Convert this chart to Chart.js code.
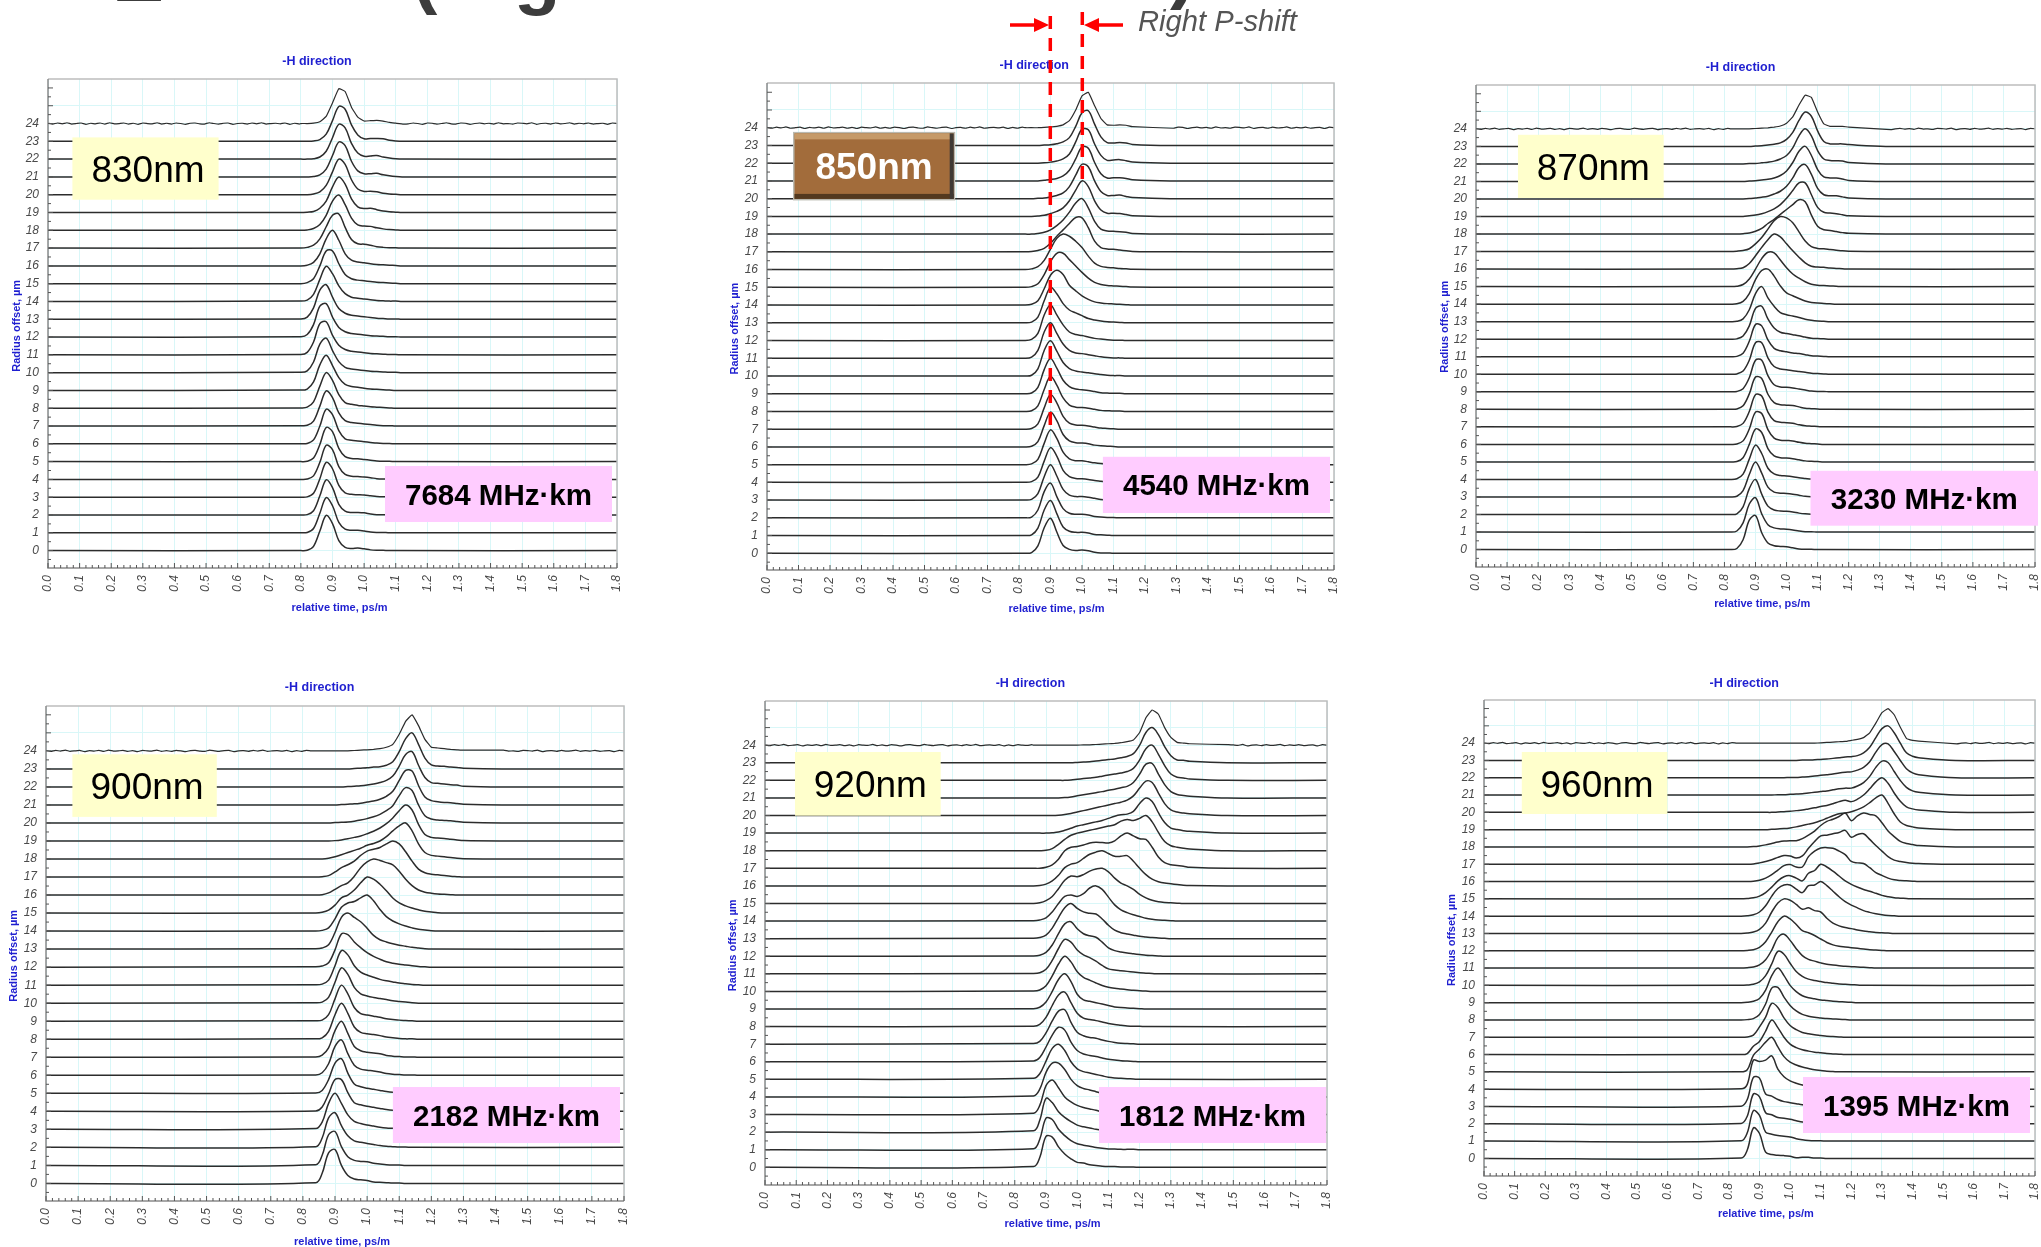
<!DOCTYPE html>
<html>
<head>
<meta charset="utf-8">
<title>-H direction pulses</title>
<script src="https://cdn.jsdelivr.net/npm/chart.js@4"></script>
<style>
  html, body { margin: 0; padding: 0; background: #fff; width: 2041px; height: 1247px; overflow: hidden; }
  canvas { position: absolute; }
  #overlay { position: absolute; left: 0; top: 0; font-family: "Liberation Sans", Arial, sans-serif; }
</style>
</head>
<body>
<svg id="overlay" width="2041" height="1247"></svg>
<script>
// pulse height, 100 = tallest peak. Rows are radius offset 0..24,
// missing values at the end of a row are baseline.
var time830 = [0.80,0.82,0.84,0.86,0.88,0.90,0.92,0.94,0.96,0.98,1.00,1.02,1.04,1.06,1.08,1.10,1.12];
var pulses830 = [
  [0,1,12,55,99,76,28,9,6,7,5,2,1,1],
  [0,1,12,55,99,76,29,10,7,7,5,2,1,1],
  [0,1,12,54,99,77,30,11,7,7,6,3,1,1],
  [0,1,11,52,98,80,33,12,8,7,6,4,2,1,1],
  [0,1,10,48,96,84,36,14,9,8,7,5,2,1,1],
  [0,1,10,48,96,84,37,14,9,8,6,4,2,1,1],
  [0,1,11,50,97,82,37,14,10,8,6,4,2,1,1],
  [1,2,14,56,99,80,37,15,10,8,6,4,2,1,1],
  [1,3,18,62,100,78,38,16,11,8,6,4,3,2,1],
  [1,4,24,72,99,70,36,17,11,9,6,4,3,2,1],
  [1,5,30,80,97,62,31,15,10,8,6,4,3,2,1,1],
  [1,7,36,88,93,55,27,15,10,8,6,4,3,2,1,1],
  [1,7,35,87,94,56,27,15,10,8,6,4,3,2,1,1],
  [1,6,32,82,97,62,30,17,11,9,7,5,3,2,1,1],
  [1,4,20,62,99,78,44,22,12,9,7,5,3,2,1,1],
  [0,3,14,50,92,92,56,26,14,10,8,6,4,3,2,1],
  [0,2,10,34,76,100,72,34,16,11,9,6,4,3,2,1],
  [0,2,8,26,60,92,96,58,24,12,11,8,4,2,1,1],
  [0,1,5,16,42,82,99,72,34,15,12,11,7,4,2,1],
  [0,1,3,12,32,72,100,80,38,16,11,12,8,4,2,1],
  [0,0,2,8,26,64,100,85,42,16,9,10,8,4,2,1],
  [0,0,1,6,22,60,98,88,44,17,9,9,10,6,3,1],
  [0,0,1,6,22,60,98,88,44,17,8,9,10,6,3,1],
  [0,0,1,5,20,58,98,90,46,18,7,8,8,7,3,1],
  [0,0,1,5,20,58,98,90,46,18,7,8,9,7,3,1]
];

var time850 = [0.82,0.84,0.86,0.88,0.90,0.92,0.94,0.96,0.98,1.00,1.02,1.04,1.06,1.08,1.10,1.12,1.14,1.16];
var pulses850 = [
  [0,2,21,72,99,60,22,11,8,9,7,3,1,1],
  [0,2,21,72,99,62,24,12,9,9,7,3,2,1],
  [0,2,22,74,98,60,26,13,10,10,8,4,2,1,1],
  [0,2,18,66,100,68,30,14,10,10,8,5,2,1,1],
  [0,2,15,60,98,74,34,16,11,10,8,5,3,1,1],
  [0,2,15,60,98,74,35,16,11,11,8,5,3,2,1],
  [0,2,15,60,98,74,35,17,12,11,9,5,3,2,1],
  [0,2,15,60,98,74,36,17,12,11,9,6,3,2,1],
  [0,2,16,62,99,74,38,18,12,11,9,6,3,2,1,1],
  [0,2,18,68,99,72,38,20,13,11,9,6,3,2,1,1],
  [0,2,20,72,99,70,38,21,14,11,9,6,4,2,1,1],
  [0,3,22,74,100,70,40,22,15,13,10,7,4,2,1,1],
  [0,3,20,72,100,72,44,24,17,14,10,6,4,2,1,1],
  [0,2,16,62,100,82,54,36,28,20,12,8,5,3,2,1],
  [0,2,12,46,84,98,86,56,40,26,16,9,6,4,3,2,1],
  [0,2,10,36,72,96,96,78,60,42,26,14,8,5,4,3,2,1],
  [0,2,8,26,58,88,100,94,80,62,38,18,9,6,5,3,2,1],
  [0,1,4,10,24,44,62,80,97,96,68,30,12,8,7,5,3,1],
  [0,0,2,5,12,24,40,62,88,100,74,36,14,9,8,7,5,2],
  [0,0,1,3,8,14,24,44,74,100,84,44,18,9,9,8,5,2],
  [0,0,1,2,5,9,16,34,66,97,90,50,20,9,9,10,6,3],
  [0,0,0,2,4,7,14,30,62,96,92,52,20,8,9,9,7,3],
  [0,0,0,1,3,6,12,26,60,96,94,54,22,8,9,10,7,3],
  [0,0,0,1,2,5,10,22,54,92,98,60,24,8,7,8,7,3],
  [0,0,0,1,2,4,8,20,50,90,100,62,26,8,7,8,7,3]
];

var time870 = [0.82,0.84,0.86,0.88,0.90,0.92,0.94,0.96,0.98,1.00,1.02,1.04,1.06,1.08,1.10,1.12,1.14,1.16,1.18,1.20];
var pulses870 = [
  [0,3,28,84,97,48,19,11,9,8,5,2,1,1],
  [0,3,26,80,98,52,21,12,9,8,6,3,1,1],
  [0,2,22,74,100,58,24,13,10,9,7,4,2,1,1],
  [0,2,18,64,100,68,28,14,11,10,8,5,2,1,1],
  [0,2,15,58,98,74,32,16,11,10,8,5,3,1,1],
  [0,1,12,50,94,84,38,17,12,11,9,6,3,2,1],
  [0,1,10,44,92,88,42,18,12,11,10,6,3,2,1],
  [0,1,10,44,92,88,42,18,13,12,10,6,3,2,1],
  [0,1,10,44,92,88,43,19,13,12,11,7,3,2,1],
  [0,1,9,40,90,90,46,20,14,13,11,8,5,2,1,1],
  [0,1,9,40,90,90,47,22,15,13,10,8,6,3,2,1],
  [0,1,10,44,92,88,48,24,17,14,11,9,6,3,2,1],
  [0,1,9,38,88,94,58,32,20,16,13,10,6,3,2,1],
  [0,1,8,34,80,100,68,44,26,20,16,12,7,4,2,1],
  [0,1,8,30,70,96,100,80,52,32,24,16,9,5,3,2,1],
  [0,1,6,22,50,80,98,96,76,54,36,24,14,7,4,3,2,1],
  [0,1,4,16,38,62,84,100,92,72,52,34,18,8,6,5,3,2,1],
  [0,1,3,8,22,40,64,88,100,96,82,56,30,14,9,8,6,4,2,1],
  [0,0,1,3,8,16,30,42,56,70,84,98,92,54,22,12,10,7,4,2],
  [0,0,0,2,4,8,14,22,34,52,74,96,96,62,26,12,10,8,5,2],
  [0,0,0,1,3,5,8,14,22,36,60,90,98,70,30,12,9,9,6,3],
  [0,0,0,1,2,4,6,10,17,30,54,86,100,74,34,13,10,10,7,3],
  [0,0,0,1,1,3,5,8,14,24,46,80,100,80,38,14,10,9,8,4],
  [0,0,0,0,1,2,4,6,10,20,40,74,98,86,44,14,7,7,7,5],
  [0,0,0,0,1,2,3,5,8,16,34,68,96,90,48,14,7,7,7,5]
];

var time900 = [0.84,0.86,0.88,0.90,0.92,0.94,0.96,0.98,1.00,1.02,1.04,1.06,1.08,1.10,1.12,1.14,1.16,1.18,1.20,1.22,1.24,1.26,1.28,1.30];
var pulses900 = [
  [2,28,85,94,50,22,12,10,8,4,3,2,1,1],
  [2,28,85,94,52,24,14,11,10,6,4,2,1,1],
  [2,26,82,96,60,32,18,14,11,8,5,3,2,1,1],
  [2,20,72,100,72,40,22,16,12,9,6,4,3,2,1,1],
  [1,12,48,88,88,52,24,18,14,11,8,5,3,2,1,1],
  [1,8,38,84,96,56,26,18,14,11,8,5,3,2,1,1],
  [1,7,32,80,98,60,28,17,14,12,9,5,3,2,1,1],
  [1,6,26,74,100,66,30,18,14,12,10,5,3,2,1,1],
  [1,4,22,68,100,72,34,19,15,13,10,6,4,2,1,1],
  [1,3,18,62,100,76,38,21,17,14,11,7,5,3,2,1],
  [1,3,16,58,98,80,44,26,20,16,13,10,7,5,3,1],
  [1,3,14,54,96,84,54,36,28,22,16,12,9,6,4,2,1],
  [1,3,12,48,92,90,70,54,40,30,22,15,11,8,6,4,2,1],
  [1,3,12,46,88,100,88,76,58,38,26,20,15,11,8,5,3,1],
  [0,2,9,34,66,78,82,92,100,84,60,40,28,20,14,9,5,3,1],
  [0,2,8,22,42,50,64,84,100,94,80,62,42,28,20,14,9,5,3,1],
  [0,1,6,16,26,34,52,76,92,100,96,90,84,66,44,26,14,8,5,3,2,1],
  [0,1,4,14,26,34,44,60,72,77,82,92,100,92,70,44,22,12,8,6,4,2,1],
  [0,0,2,6,12,18,24,30,38,43,50,62,78,92,100,78,42,18,10,8,6,4,2,1],
  [0,0,0,1,3,6,10,14,20,27,36,48,64,84,100,86,46,18,10,8,7,5,3,1],
  [0,0,0,1,2,3,5,8,12,17,24,34,48,76,98,90,50,20,11,8,7,6,4,2],
  [0,0,0,0,1,2,3,5,8,11,16,24,38,68,96,94,54,22,12,9,7,6,4,2],
  [0,0,0,0,0,1,2,3,5,8,12,18,30,58,90,98,60,26,12,10,8,6,5,2],
  [0,0,0,0,0,0,1,2,3,5,6,10,20,48,84,100,68,30,11,8,7,5,4,2],
  [0,0,0,0,0,0,1,2,3,4,6,10,18,46,82,100,70,32,10,8,6,4,3,2]
];

var time920 = [0.86,0.88,0.90,0.92,0.94,0.96,0.98,1.00,1.02,1.04,1.06,1.08,1.10,1.12,1.14,1.16,1.18,1.20,1.22,1.24,1.26,1.28,1.30,1.32,1.34,1.36];
var pulses920 = [
  [2,28,88,86,58,38,24,14,12,7,5,3,2,2,1,1,1],
  [3,30,90,86,58,40,26,17,13,10,6,4,2,2,1,1,1],
  [4,34,96,84,58,42,30,20,15,12,8,5,3,2,2,1,1],
  [4,26,82,98,76,50,36,26,20,16,12,7,5,3,2,1,1],
  [3,22,70,96,96,78,50,32,24,20,15,10,6,4,3,2,1],
  [3,16,52,88,100,82,50,30,22,18,14,10,6,4,3,2,1],
  [2,12,42,76,98,90,56,32,22,18,15,11,7,5,3,2,1],
  [2,8,32,66,94,98,62,34,24,19,17,12,8,5,3,2,1],
  [1,6,26,60,90,98,68,38,24,20,17,13,9,6,4,2,1,1],
  [1,5,20,50,84,100,78,42,26,22,18,14,10,6,4,3,2,1],
  [1,4,16,44,78,100,84,56,40,32,24,17,12,9,7,5,3,2,1],
  [1,3,13,38,72,98,90,68,54,46,36,24,14,11,9,7,5,3,2,1],
  [1,3,11,32,64,92,98,78,64,58,54,40,24,16,12,9,7,5,3,2,1],
  [1,3,10,30,60,88,100,86,76,72,70,56,38,24,17,13,10,7,5,3,2,1],
  [1,3,9,26,50,70,74,70,78,94,100,90,68,46,32,24,18,13,8,5,3,2,1],
  [0,2,8,20,42,66,78,76,82,92,98,100,90,72,58,50,40,26,16,9,5,3,2,1],
  [0,1,5,14,30,52,62,66,78,90,96,100,92,84,84,86,70,50,32,19,12,8,6,4,2,1],
  [0,0,3,10,26,50,60,62,66,72,74,73,72,78,92,100,92,84,82,60,32,16,10,8,6,3],
  [0,0,1,6,18,32,44,50,54,58,62,66,70,74,84,89,86,92,100,82,52,26,14,10,7,5],
  [0,0,0,1,3,8,14,20,24,28,32,36,42,48,52,54,62,84,100,90,58,30,14,10,7,5],
  [0,0,0,0,1,3,6,10,14,18,22,26,30,34,38,44,56,78,98,94,64,34,16,10,7,5],
  [0,0,0,0,0,1,3,6,9,12,15,18,22,25,29,33,44,68,96,98,68,38,18,10,7,5],
  [0,0,0,0,0,0,1,3,5,7,9,12,15,18,21,25,34,58,90,100,74,42,18,9,7,4],
  [0,0,0,0,0,0,0,1,2,3,5,7,9,11,14,18,26,50,86,100,80,46,20,8,7,4],
  [0,0,0,0,0,0,0,0,1,1,2,3,4,5,7,10,15,36,78,100,88,50,22,8,6,4]
];

var time960 = [0.84,0.86,0.88,0.90,0.92,0.94,0.96,0.98,1.00,1.02,1.04,1.06,1.08,1.10,1.12,1.14,1.16,1.18,1.20,1.22,1.24,1.26,1.28,1.30,1.32,1.34,1.36,1.38,1.40,1.42];
var pulses960 = [
  [1,24,88,72,18,11,9,8,6,2,3,3,1,1],
  [1,24,88,74,26,20,16,14,12,7,4,2,1,1],
  [1,22,86,78,32,26,18,16,13,9,5,3,2,1,1],
  [1,20,84,82,36,30,20,14,11,8,5,3,2,1,1],
  [1,14,84,80,84,96,58,36,24,17,12,9,5,3,2,1],
  [0,6,48,66,86,100,72,44,28,20,14,10,6,4,2,1],
  [0,3,24,38,68,100,78,50,30,20,14,10,7,5,3,2,1],
  [0,1,6,30,58,98,86,56,34,22,14,10,7,5,3,2,1],
  [0,1,4,16,46,92,94,66,42,26,16,11,8,6,4,3,2,1],
  [0,1,4,12,36,78,100,78,50,32,20,14,11,8,6,4,3,2,1],
  [0,1,3,10,28,62,98,90,64,40,26,18,14,11,8,6,4,3,2,1],
  [0,1,3,9,24,52,88,98,80,56,36,25,20,15,11,9,7,5,4,3,2,1],
  [0,1,3,10,26,54,84,100,92,76,58,52,44,34,24,17,13,11,9,7,5,3,2,1],
  [0,1,4,12,30,62,88,100,96,84,70,74,66,62,44,30,22,17,14,10,7,5,3,2,1],
  [0,1,4,12,30,58,80,90,90,78,68,88,90,100,88,72,56,42,32,24,16,11,7,4,2,1],
  [0,1,3,8,18,34,52,64,67,60,52,74,82,100,92,80,66,52,42,34,27,22,16,10,6,3,2,1],
  [0,0,1,4,10,20,33,46,49,42,42,72,88,97,98,96,88,78,58,54,52,40,26,18,10,5,3,2,1],
  [0,0,1,4,8,13,20,25,24,18,24,46,66,82,84,88,92,98,78,86,88,72,54,38,22,12,8,5,3,2],
  [0,0,1,3,6,10,14,17,18,18,24,34,46,62,74,80,88,98,76,90,98,94,90,70,46,30,16,10,7,4],
  [0,0,0,0,0,1,2,3,5,8,12,16,20,26,33,40,46,48,52,58,66,78,92,100,76,46,22,12,8,5],
  [0,0,0,0,0,0,1,2,3,5,7,10,13,17,20,25,31,35,31,38,50,68,88,100,84,56,32,16,10,7],
  [0,0,0,0,0,0,1,1,2,3,4,6,8,10,12,15,18,20,20,26,36,54,80,98,94,68,42,22,12,8],
  [0,0,0,0,0,0,0,0,1,1,2,3,5,7,9,11,14,16,17,22,30,46,74,96,98,76,50,26,14,9],
  [0,0,0,0,0,0,0,0,0,0,1,1,2,3,4,6,8,10,11,14,22,38,66,92,100,80,50,22,12,8],
  [0,0,0,0,0,0,0,0,0,0,0,0,0,1,2,3,4,5,8,11,16,30,58,88,100,82,46,14,8,6]
];

// the 24 um trace is noisy, one reading every 0.015 ps/m
var noise24 = [1,-2,2,-1,3,-2,0,2,-3,1,-1,2,-2,3,-1,0,2,-2,1,-3,2,0,-1,3,-2,1,-2,2,0,-3,1,2,-1,-2,3,0,-2,1,2,-3,0,1,-2,2,-1,3,-2,0,1,-1,2,-3,1,-2,2,0,-1,2,-2,1,
  -1,2,0,-2,3,-1,1,-3,2,-1,0,2,-2,1,3,-2,-1,2,0,-3,2,1,-2,0,3,-1,-2,2,1,-3,0,2,-1,1,-2,3,-1,0,-2,2,1,-1,3,-3,0,1,-2,2,-1,0,3,-2,1,-1,2,-2,0,1,-3,2];

var noiseStep = 0.015;
var xTop = 1.8;
var tailLength = 0.12; // rows that fill the whole time list still fade out after it

// where each picture sits on the slide
var panels = [
  { time: time830, rows: pulses830, left: 48.3, right: 617, top: 79, bottom: 567.7, y0: 550.3, y24: 123.5,
    title: [317, 61], xTitle: [339.5, 606.7], yTitle: [15.6, 325.8],
    nm: '830nm', nmBox: [72.4, 137.4, 146.2, 62.3], bw: '7684 MHz·km', bwBox: [385, 466, 227, 56] },
  { time: time850, rows: pulses850, left: 766.9, right: 1334, top: 83.2, bottom: 570, y0: 553.3, y24: 127.9,
    title: [1034.3, 64.7], xTitle: [1056.5, 608], yTitle: [733.8, 328.6],
    nm: '850nm', nmBox: [794.5, 133.4, 159.2, 65.5], bevel: true, bw: '4540 MHz·km', bwBox: [1102.9, 456.8, 227.1, 56.2] },
  { time: time870, rows: pulses870, left: 1475.6, right: 2034.6, top: 84.9, bottom: 566.4, y0: 549, y24: 128.7,
    title: [1740.6, 66.7], xTitle: [1762.2, 602.8], yTitle: [1443.7, 326.7],
    nm: '870nm', nmBox: [1518, 134.8, 145.7, 63.2], bw: '3230 MHz·km', bwBox: [1810.5, 470.8, 227.5, 54.9] },
  { time: time900, rows: pulses900, left: 46.4, right: 624, top: 705.7, bottom: 1201, y0: 1183.4, y24: 750.6,
    title: [319.6, 687], xTitle: [342, 1240.7], yTitle: [13, 955.8],
    nm: '900nm', nmBox: [72.4, 754.3, 144.4, 62.6], bw: '2182 MHz·km', bwBox: [392.9, 1087, 227.1, 56] },
  { time: time920, rows: pulses920, left: 764.6, right: 1327, top: 700.8, bottom: 1185, y0: 1167.3, y24: 745,
    title: [1030.4, 682.8], xTitle: [1052.6, 1222.7], yTitle: [731.7, 945.3],
    nm: '920nm', nmBox: [795, 752, 145.7, 63.7], bw: '1812 MHz·km', bwBox: [1099, 1087, 227, 56] },
  { time: time960, rows: pulses960, left: 1483.8, right: 2034.9, top: 700.4, bottom: 1175.9, y0: 1158.3, y24: 743.5,
    title: [1744.2, 682.5], xTitle: [1765.9, 1213], yTitle: [1451, 940],
    nm: '960nm', nmBox: [1521.8, 752, 145.6, 62], bw: '1395 MHz·km', bwBox: [1803, 1077, 227, 56] }
];

var marginLeft = 50, marginBottom = 50, marginTop = 12, marginRight = 12;
var tickFont = { family: '"Liberation Sans", Arial, sans-serif', size: 12, style: 'italic' };

function traceData(time, row, k) {
  var pts = [];
  if (k == 24) {
    noise24.forEach(function (n, i) {
      if (i * noiseStep < time[0]) pts.push({ x: i * noiseStep, y: k + n / 70 });
    });
  } else {
    pts.push({ x: 0, y: k });
  }
  row.forEach(function (v, i) {
    pts.push({ x: time[i], y: k + v / 50 });
  });
  var end = row.length < time.length ? time[row.length] : time[time.length - 1] + tailLength;
  if (k == 24) {
    noise24.forEach(function (n, i) {
      if (i * noiseStep > end) pts.push({ x: i * noiseStep, y: k + n / 70 });
    });
  } else {
    pts.push({ x: end, y: k });
  }
  pts.push({ x: xTop, y: k });
  return pts;
}

// frame and the small inward ticks of the original plots
var frameTicks = {
  id: 'frameTicks',
  afterDraw: function (chart) {
    var c = chart.ctx, a = chart.chartArea, sx = chart.scales.x, sy = chart.scales.y;
    c.save();
    c.strokeStyle = '#bdbdbd';
    c.lineWidth = 1.5;
    c.beginPath();
    c.moveTo(a.left, a.top); c.lineTo(a.right, a.top); c.lineTo(a.right, a.bottom);
    c.stroke();
    c.strokeStyle = '#8a8a8a';
    c.beginPath();
    c.moveTo(a.left, a.top); c.lineTo(a.left, a.bottom); c.lineTo(a.right, a.bottom);
    c.stroke();
    c.strokeStyle = '#555';
    c.lineWidth = 1;
    c.beginPath();
    for (var i = 0; i <= 90; i++) {
      var px = sx.getPixelForValue(i * 0.02);
      c.moveTo(px, a.bottom);
      c.lineTo(px, a.bottom - (i % 5 == 0 ? 5 : 3));
    }
    for (var j = -1; j <= 52; j++) {
      var py = sy.getPixelForValue(j / 2);
      if (py < a.top || py > a.bottom) continue;
      c.moveTo(a.left, py);
      c.lineTo(a.left + (j % 2 == 0 ? 5 : 3), py);
    }
    c.stroke();
    c.restore();
  }
};

panels.forEach(function (p) {
  var canvas = document.createElement('canvas');
  canvas.width = Math.round(p.right - p.left + marginLeft + marginRight);
  canvas.height = Math.round(p.bottom - p.top + marginTop + marginBottom);
  canvas.style.left = (p.left - marginLeft) + 'px';
  canvas.style.top = (p.top - marginTop) + 'px';
  document.body.insertBefore(canvas, document.getElementById('overlay'));

  var spacing = (p.y0 - p.y24) / 24;
  var yMin = -(p.bottom - p.y0) / spacing;
  var yMax = (p.y0 - p.top) / spacing;

  new Chart(canvas.getContext('2d'), {
    type: 'line',
    data: {
      datasets: p.rows.map(function (row, k) {
        return {
          label: k + ' um',
          data: traceData(p.time, row, k),
          borderColor: '#2c2c2c',
          borderWidth: k == 24 ? 1.2 : 1.5,
          pointRadius: 0,
          tension: k == 24 ? 0.1 : 0.35,
          fill: false
        };
      })
    },
    options: {
      responsive: false,
      animation: false,
      parsing: false,
      layout: { padding: { left: 0, right: marginRight, top: marginTop, bottom: 0 } },
      plugins: { legend: { display: false }, tooltip: { enabled: false } },
      scales: {
        x: {
          type: 'linear',
          min: 0,
          max: xTop,
          afterFit: function (s) {
            s.height = marginBottom;
            s.paddingLeft = 0;
            s.paddingRight = 0;
          },
          border: { display: false },
          grid: { color: '#d9f7f8', lineWidth: 1, drawTicks: false, borderDash: [2, 1] },
          ticks: {
            stepSize: 0.1,
            autoSkip: false,
            maxRotation: 90,
            minRotation: 90,
            padding: 7,
            color: '#4a4a4a',
            font: tickFont,
            callback: function (v) { return v.toFixed(1); }
          }
        },
        y: {
          type: 'linear',
          min: yMin,
          max: yMax,
          afterFit: function (s) {
            s.width = marginLeft;
            s.paddingTop = 0;
            s.paddingBottom = 0;
          },
          border: { display: false },
          grid: {
            drawTicks: false,
            color: function (ctx) {
              return Number.isInteger(ctx.tick.value) ? '#d9f7f8' : 'transparent';
            }
          },
          ticks: {
            stepSize: 1,
            autoSkip: false,
            padding: 9,
            color: '#4a4a4a',
            font: tickFont,
            callback: function (v) {
              return Number.isInteger(v) && v >= 0 && v <= 24 ? String(v) : '';
            }
          }
        }
      }
    },
    plugins: [frameTicks]
  });
});

// text boxes and the red markers on top of the plots
function svgText(x, y, str, attrs) {
  return '<text x="' + x + '" y="' + y + '" ' + attrs + '>' + str + '</text>';
}
var blue = 'fill="#1f1fd0" font-weight="bold" text-anchor="middle" dominant-baseline="central"';
var svg = '';

// bottom of the slide heading, cut off by the crop
var heading = 'fill="#3c3c3c" font-weight="bold" font-size="76"';
svg += svgText(118, -8, '_', heading);
svg += svgText(412, -1, '(', heading);
svg += svgText(514, 0, 'g', heading);
svg += svgText(1170, -6, ')', heading);

panels.forEach(function (p) {
  svg += svgText(p.title[0], p.title[1], '-H direction', blue + ' font-size="12.5"');
  svg += svgText(p.xTitle[0], p.xTitle[1], 'relative time, ps/m', blue + ' font-size="11"');
  svg += '<g transform="translate(' + p.yTitle[0] + ',' + p.yTitle[1] + ') rotate(-90)">' +
    svgText(0, 0, 'Radius offset, µm', blue + ' font-size="11"') + '</g>';

  var b = p.nmBox;
  if (p.bevel) {
    svg += '<rect x="' + (b[0] - 1.5) + '" y="' + (b[1] - 1.5) + '" width="' + (b[2] + 3) + '" height="' + (b[3] + 3) + '" fill="#b9b9b0"/>';
    svg += '<rect x="' + b[0] + '" y="' + b[1] + '" width="' + b[2] + '" height="' + b[3] + '" fill="#a26c3b"/>';
    svg += '<rect x="' + b[0] + '" y="' + b[1] + '" width="' + b[2] + '" height="6" fill="#c69a68"/>';
    svg += '<rect x="' + b[0] + '" y="' + (b[1] + b[3] - 5) + '" width="' + b[2] + '" height="5" fill="#53391f"/>';
    svg += '<rect x="' + (b[0] + b[2] - 4) + '" y="' + b[1] + '" width="4" height="' + b[3] + '" fill="#3f3a35"/>';
    svg += svgText(b[0] + b[2] / 2, b[1] + b[3] / 2, p.nm,
      'fill="#fff" font-weight="bold" font-size="37" text-anchor="middle" dominant-baseline="central"');
  } else {
    svg += '<rect x="' + b[0] + '" y="' + b[1] + '" width="' + b[2] + '" height="' + b[3] + '" fill="#ffffcc"/>';
    svg += svgText(b[0] + b[2] / 2 + 2.5, b[1] + b[3] / 2 + 1, p.nm,
      'fill="#000" font-size="37" text-anchor="middle" dominant-baseline="central"');
  }
  var w = p.bwBox;
  svg += '<rect x="' + w[0] + '" y="' + w[1] + '" width="' + w[2] + '" height="' + w[3] + '" fill="#ffccff"/>';
  svg += svgText(w[0] + w[2] / 2, w[1] + w[3] / 2, p.bw,
    'fill="#000" font-weight="bold" font-size="29.5" text-anchor="middle" dominant-baseline="central"');
});

var red = 'stroke="#ff0000" stroke-width="3.5" fill="none"';
svg += '<line x1="1050.3" y1="16" x2="1050.3" y2="432" stroke-dasharray="13 9" ' + red + '/>';
svg += '<line x1="1082.3" y1="12" x2="1082.3" y2="181" stroke-dasharray="13 9" ' + red + '/>';
svg += '<line x1="1010" y1="25" x2="1036" y2="25" ' + red + '/>';
svg += '<polygon points="1034,18 1049,25 1034,32" fill="#ff0000"/>';
svg += '<line x1="1123" y1="25" x2="1097" y2="25" ' + red + '/>';
svg += '<polygon points="1099,18 1084,25 1099,32" fill="#ff0000"/>';
svg += svgText(1138, 31, 'Right P-shift', 'fill="#555" font-style="italic" font-size="29.2"');

document.getElementById('overlay').innerHTML = svg;
</script>
</body>
</html>
